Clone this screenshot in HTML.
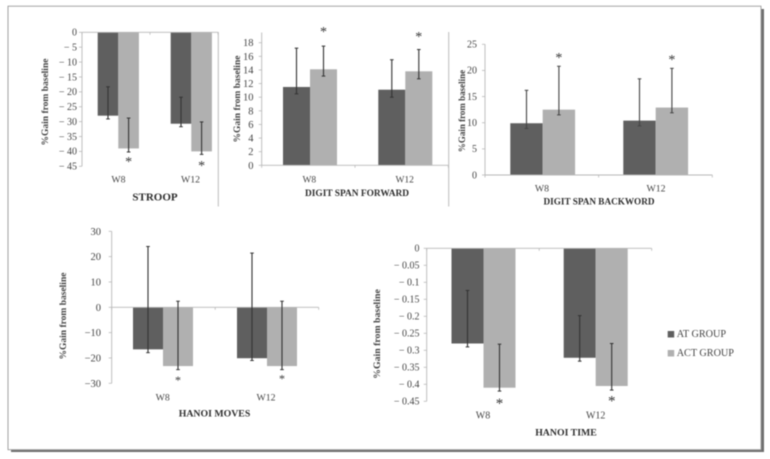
<!DOCTYPE html>
<html>
<head>
<meta charset="utf-8">
<style>
html,body{margin:0;padding:0;background:#fff;width:770px;height:459px;overflow:hidden}
svg{display:block;filter:blur(0.4px)}
text{font-family:"Liberation Serif",serif;fill:#444}
.tick{font-size:10px;text-anchor:end}
.cat{font-size:10px;text-anchor:middle}
.ttl{font-weight:bold;text-anchor:middle;fill:#2e2e2e}
.yt{font-size:9.5px;font-weight:bold;text-anchor:middle;fill:#444}
.star{font-size:14px;text-anchor:middle;fill:#333}
</style>
</head>
<body>
<svg id="fig" xmlns="http://www.w3.org/2000/svg" width="770" height="459" viewBox="0 0 770 459">
  <rect x="11" y="9" width="753" height="443" fill="#6e6e6e"/>
  <rect x="8" y="6.2" width="753" height="443.5" fill="#fff" stroke="#999" stroke-width="0.9"/>
  <rect x="667.7" y="331" width="6.5" height="6.5" fill="#5f5f5f"/>
  <text x="676.7" y="337" font-size="10.2">AT GROUP</text>
  <rect x="667.7" y="350" width="6.5" height="6.5" fill="#b0b0b0"/>
  <text x="676.7" y="356" font-size="10.2">ACT GROUP</text>
</svg>
<script>
// ---- data ----
const categories = ["W8", "W12"];

const stroopAT = [-28, -30.7];
const stroopACT = [-39, -40];
const stroopATErrHigh = [-18.3, -21.8];
const stroopATErrLow = [-29.1, -31.7];
const stroopACTErrHigh = [-28.8, -30.1];
const stroopACTErrLow = [-40.2, -41];
const stroopStars = [-42.5, -43.9];
const stroopTicks = [0, -5, -10, -15, -20, -25, -30, -35, -40, -45];
const stroopTickLabels = ["0", "− 5", "− 10", "− 15", "− 20", "− 25", "− 30", "− 35", "− 40", "− 45"];

const forwardAT = [11.5, 11.1];
const forwardACT = [14.1, 13.8];
const forwardATErrHigh = [17.2, 15.5];
const forwardATErrLow = [10.5, 10];
const forwardACTErrHigh = [17.5, 17];
const forwardACTErrLow = [13.1, 12.7];
const forwardStars = [20, 19.3];
const forwardTicks = [0, 2, 4, 6, 8, 10, 12, 14, 16, 18];
const forwardTickLabels = ["0", "2", "4", "6", "8", "10", "12", "14", "16", "18"];

const backwardAT = [9.9, 10.4];
const backwardACT = [12.5, 12.9];
const backwardATErrHigh = [16.2, 18.4];
const backwardATErrLow = [8.9, 9.4];
const backwardACTErrHigh = [20.8, 20.4];
const backwardACTErrLow = [11.5, 11.9];
const backwardStars = [23, 22.6];
const backwardTicks = [0, 5, 10, 15, 20, 25];
const backwardTickLabels = ["0", "5", "10", "15", "20", "25"];

const movesAT = [-16.6, -20.1];
const movesACT = [-23.2, -23.2];
const movesATErrHigh = [24, 21.4];
const movesATErrLow = [-17.9, -21];
const movesACTErrHigh = [2.4, 2.4];
const movesACTErrLow = [-24.6, -24.6];
const movesStars = [-28, -27.4];
const movesTicks = [30, 20, 10, 0, -10, -20, -30];
const movesTickLabels = ["30", "20", "10", "0", "−10", "−20", "−30"];

const timeAT = [-0.28, -0.322];
const timeACT = [-0.41, -0.405];
const timeATErrHigh = [-0.124, -0.198];
const timeATErrLow = [-0.29, -0.332];
const timeACTErrHigh = [-0.282, -0.28];
const timeACTErrLow = [-0.42, -0.417];
const timeStars = [-0.447, -0.44];
const timeTicks = [0, -0.05, -0.1, -0.15, -0.2, -0.25, -0.3, -0.35, -0.4, -0.45];
const timeTickLabels = ["0", "− 0.05", "− 0.1", "− 0.15", "− 0.2", "− 0.25", "− 0.3", "− 0.35", "− 0.4", "− 0.45"];

const yAxisTitle = "%Gain from baseline";

// ---- chart definitions ----
const charts = [
  {id:"stroop", title:"STROOP", at:stroopAT, act:stroopACT, atHi:stroopATErrHigh, atLo:stroopATErrLow, actHi:stroopACTErrHigh, actLo:stroopACTErrLow, stars:stroopStars, ticks:stroopTicks, labels:stroopTickLabels,
   d0:0, d1:-45, p0:32.3, p1:166.3, left:82, right:218, c0:118.3, step:73, bw:20.6,
   tickX:77, tickFs:10, catY:182.5, catFs:9.8, catX:[118.5,190.5], titleX:155, titleY:200.5, titleFs:11, ytX:48, ytY:102, ytFs:9.5, errColor:"#333", starFs:14},
  {id:"digit-span-forward", title:"DIGIT SPAN FORWARD", at:forwardAT, act:forwardACT, atHi:forwardATErrHigh, atLo:forwardATErrLow, actHi:forwardACTErrHigh, actLo:forwardACTErrLow, stars:forwardStars, ticks:forwardTicks, labels:forwardTickLabels,
   d0:0, d1:19.5, p0:165.3, p1:32.5, left:261.7, right:448.3, c0:310, step:95.3, bw:27,
   tickX:253.5, tickFs:10.5, catY:182.5, catFs:9.5, catX:[309.3,404.7], titleX:357, titleY:196, titleFs:9.4, ytX:240, ytY:99, ytFs:9.5, errColor:"#333", starFs:14},
  {id:"digit-span-backward", title:"DIGIT SPAN BACKWORD", at:backwardAT, act:backwardACT, atHi:backwardATErrHigh, atLo:backwardATErrLow, actHi:backwardACTErrHigh, actLo:backwardACTErrLow, stars:backwardStars, ticks:backwardTicks, labels:backwardTickLabels,
   d0:0, d1:25, p0:175, p1:44.3, left:485, right:712.3, c0:542.7, step:113, bw:32.4,
   tickX:477, tickFs:10, catY:191.5, catFs:9.8, catX:[542,656], titleX:599, titleY:204.5, titleFs:9.2, ytX:465, ytY:111, ytFs:9, errColor:"#444", starFs:14},
  {id:"hanoi-moves", title:"HANOI MOVES", at:movesAT, act:movesACT, atHi:movesATErrHigh, atLo:movesATErrLow, actHi:movesACTErrHigh, actLo:movesACTErrLow, stars:movesStars, ticks:movesTicks, labels:movesTickLabels,
   d0:30, d1:-30, p0:231.3, p1:383.3, left:111.7, right:318.7, c0:163, step:104, bw:30,
   tickX:101, tickFs:10.5, catY:400.5, catFs:9.8, catX:[162.7,266], titleX:214.5, titleY:416.5, titleFs:9.8, ytX:66, ytY:316, ytFs:9.5, errColor:"#333", starFs:12},
  {id:"hanoi-time", title:"HANOI TIME", at:timeAT, act:timeACT, atHi:timeATErrHigh, atLo:timeATErrLow, actHi:timeACTErrHigh, actLo:timeACTErrLow, stars:timeStars, ticks:timeTicks, labels:timeTickLabels,
   d0:0, d1:-0.45, p0:248.3, p1:401.3, left:426.7, right:651.7, c0:483.5, step:112.2, bw:32,
   tickX:419.5, tickFs:10, catY:418.5, catFs:10, catX:[483,595.7], titleX:566, titleY:435.5, titleFs:9.8, ytX:380, ytY:334, ytFs:9.8, errColor:"#333", starFs:15}
];

const NS = "http://www.w3.org/2000/svg";
const fig = document.getElementById("fig");
function mk(tag, attrs, txt){
  const e = document.createElementNS(NS, tag);
  for (const k in attrs) e.setAttribute(k, attrs[k]);
  if (txt !== undefined) e.textContent = txt;
  return e;
}

// divider lines
const div1 = mk("line", {x1:218.3, y1:32, x2:218.3, y2:206.5, stroke:"#b5b5b5", "stroke-width":0.9});


fig.appendChild(div1);
const div2 = mk("line", {x1:448.7, y1:32, x2:448.7, y2:206.5, stroke:"#b5b5b5", "stroke-width":0.9});


fig.appendChild(div2);

charts.forEach(function(c){
  const y = function(v){ return c.p0 + (v - c.d0) / (c.d1 - c.d0) * (c.p1 - c.p0); };
  const x = function(i){ return c.c0 + i * c.step; };
  const g = mk("g", {});
  
  
  fig.appendChild(g);

  const axisColor = "#b8b8b8";
  const yTop = Math.min(c.p0, c.p1), yBot = Math.max(c.p0, c.p1);

  // bars
  categories.forEach(function(cat, i){
    const b0 = y(0);
    const aY = y(c.at[i]);
    const barA = mk("rect", {x:x(i) - c.bw, y:Math.min(b0, aY), width:c.bw, height:Math.abs(aY - b0), fill:"#5f5f5f"});
    
    
    g.appendChild(barA);
    const cY = y(c.act[i]);
    const barC = mk("rect", {x:x(i), y:Math.min(b0, cY), width:c.bw, height:Math.abs(cY - b0), fill:"#b0b0b0"});
    
    
    g.appendChild(barC);
  });

  // axes
  const yAxis = mk("line", {x1:c.left, y1:yTop, x2:c.left, y2:yBot, stroke:axisColor, "stroke-width":0.9});
  
  
  g.appendChild(yAxis);
  const xAxis = mk("line", {x1:c.left, y1:y(0), x2:c.right, y2:y(0), stroke:axisColor, "stroke-width":0.9});
  
  
  g.appendChild(xAxis);
  [c.left, (c.left + c.right) / 2, c.right].forEach(function(tx){
    const tm = mk("line", {x1:tx, y1:y(0), x2:tx, y2:y(0) + 2.5, stroke:axisColor, "stroke-width":0.8});
    
    
    g.appendChild(tm);
  });

  // y ticks
  c.ticks.forEach(function(t, i){
    const tm = mk("line", {x1:c.left - 3, y1:y(t), x2:c.left, y2:y(t), stroke:axisColor, "stroke-width":0.8});
    
    
    g.appendChild(tm);
    const lb = mk("text", {x:c.tickX, y:y(t) + c.tickFs * 0.33, "class":"tick", style:"font-size:" + c.tickFs + "px"}, c.labels[i]);
    
    
    g.appendChild(lb);
  });

  // error bars + stars
  function err(cx, hi, lo, name){
    const l = mk("line", {x1:cx, y1:y(hi), x2:cx, y2:y(lo), stroke:c.errColor, "stroke-width":1.1});
    
    
    g.appendChild(l);
    [hi, lo].forEach(function(v){
      const cap = mk("line", {x1:cx - 1.8, y1:y(v), x2:cx + 1.8, y2:y(v), stroke:c.errColor, "stroke-width":1});
      
      
      g.appendChild(cap);
    });
  }
  categories.forEach(function(cat, i){
    err(x(i) - c.bw / 2, c.atHi[i], c.atLo[i], c.id + '-error-at-' + cat.toLowerCase());
    err(x(i) + c.bw / 2, c.actHi[i], c.actLo[i], c.id + '-error-act-' + cat.toLowerCase());
    const st = mk("text", {x:x(i) + c.bw / 2, y:y(c.stars[i]) + c.starFs * 0.5, "class":"star", style:"font-size:" + c.starFs + "px"}, "*");
    
    
    g.appendChild(st);
    const cl = mk("text", {x:c.catX[i], y:c.catY, "class":"cat", style:"font-size:" + c.catFs + "px"}, cat);
    
    
    g.appendChild(cl);
  });

  // titles
  const tt = mk("text", {x:c.titleX, y:c.titleY, "class":"ttl", style:"font-size:" + c.titleFs + "px"}, c.title);
  
  
  g.appendChild(tt);
  const yt = mk("text", {x:c.ytX, y:c.ytY, "class":"yt", transform:"rotate(-90 " + c.ytX + " " + c.ytY + ")", style:"font-size:" + c.ytFs + "px"}, yAxisTitle);
  
  
  g.appendChild(yt);
});
</script>
</body>
</html>
